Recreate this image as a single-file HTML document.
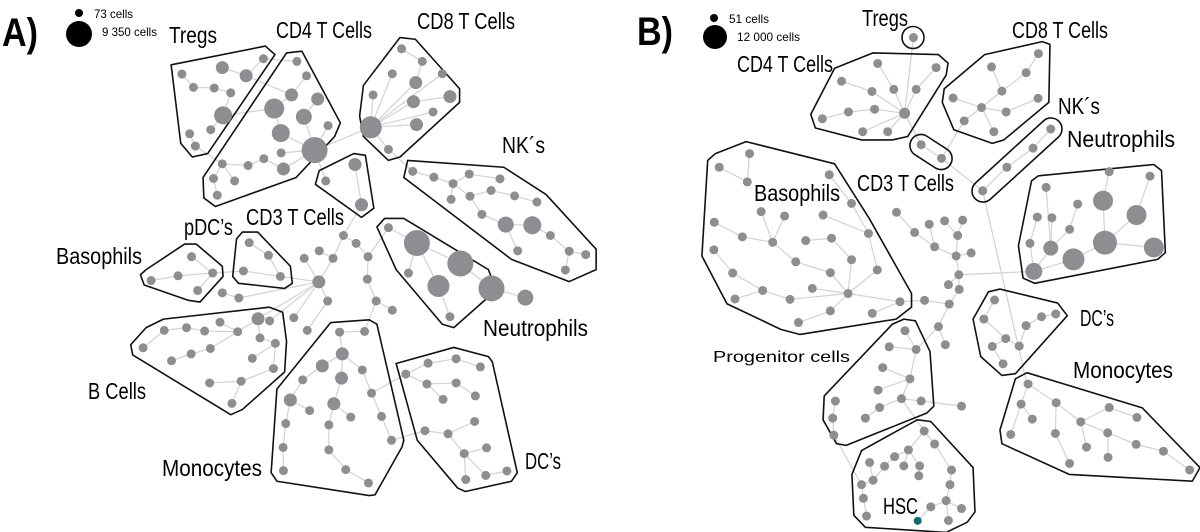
<!DOCTYPE html>
<html><head><meta charset="utf-8"><style>
html,body{margin:0;padding:0;background:#fff;width:1200px;height:532px;overflow:hidden}
svg{display:block}
text{font-family:"Liberation Sans",sans-serif;fill:#000}
.e{fill:none;stroke:#d2d2d2;stroke-width:1.2}
.h{fill:none;stroke:#111;stroke-width:1.6;stroke-linejoin:round}
.n{fill:none;stroke:#8d8e91;stroke-linecap:round}
</style></head><body>
<svg width="1200" height="532" viewBox="0 0 1200 532" xmlns="http://www.w3.org/2000/svg">
<!-- Panel A -->
<g transform="scale(0.3846,0.3413)">
<path class="e" vector-effect="non-scaling-stroke" d="M473,217L503,256L557,258L600,272L580,338L548,380M578,198L640,222L685,172M640,222L758,278M493,392L508,428L578,480M580,338L713,318M772,180L685,172M797,222L758,278L713,318L730,390L818,440M826,290L790,342L818,440M853,368L818,440M731,448L818,440M686,465L645,485L578,480L555,523L565,572M578,480L610,530M737,495L818,440M686,465L737,495M818,440L964,373M818,440L847,530M923,482L940,600L893,690L866,757L829,826M964,373L1020,216M964,373L970,278M964,373L1081,242L1098,180L1044,143M964,373L1150,216M964,373L1075,298L1170,283M964,373L1126,328M964,373L1083,365M964,373L1010,438L1073,502M1073,502L1128,519L1178,538L1220,510L1300,524M1178,538L1173,584M1178,538L1222,575L1277,558M1222,575L1253,628L1315,658L1384,660L1431,690L1480,736L1523,746M1277,558L1338,574L1396,592M1315,658L1346,735M1480,736L1470,791M1010,667L1084,712L1197,772L1278,845L1366,872M1084,712L1062,800M1084,712L1140,838L1170,928M957,752L1010,667M926,713L957,752M893,690L926,713M830,735L866,757M829,826L791,757M829,826L729,810L698,748L648,711M729,810L633,794L553,800L498,752M553,800L463,808L393,822M553,800L514,851M829,826L671,934M829,826L701,940M829,826L764,931M829,826L852,882M829,826L621,873L578,858M957,752L955,818L978,882L1020,909M978,882L948,971M852,882L799,968M671,934L618,972L572,944M618,972L532,970L485,960L427,968L372,1019M671,934L676,990L716,1006M547,1021L497,1037L446,1057M618,972L547,1021M711,1080L627,1117L545,1122M627,1117L603,1182M716,1006L656,1050M716,1006L711,1080M883,973L890,1037L838,1072L787,1113L755,1172L743,1241L736,1311L737,1379M890,1037L942,1084L966,1152L992,1220L1018,1290L1105,1262M890,1037L888,1108L868,1183L855,1245L855,1318L899,1376L958,1415M868,1183L912,1222M755,1172L805,1203M948,971L883,973M1055,1096L1113,1064L1186,1051L1249,1075M1055,1096L1110,1125L1186,1122L1236,1160M1110,1125L1152,1170M1105,1262L1165,1271L1234,1235M1165,1271L1207,1329L1265,1312M1207,1329L1211,1405M1207,1329L1263,1393L1318,1380M966,1152L1055,1096"/>
<path class="h" vector-effect="non-scaling-stroke" d="M445,190L690,135L715,160L540,450L500,460L470,420Z M745,155L785,150L885,360L870,400L770,520L560,605L530,580L528,520Z M1040,110L1080,115L1195,260L1195,300L1040,460L1010,470L945,400L935,340L945,250Z M920,450L950,455L972,610L940,637L820,540L830,500Z M1060,470L1310,490L1420,570L1550,730L1550,790L1480,825L1330,760L1050,520Z M1000,640L1050,640L1270,790L1290,850L1180,960L1150,950L1030,790L980,665Z M630,680L670,680L755,780L760,830L740,845L620,830L605,810L615,700Z M480,715L510,715L578,780L580,810L520,885L490,880L375,835L365,805L380,790Z M425,935L700,900L735,915L745,1000L740,1090L630,1200L600,1215L345,1040L340,1010L380,960Z M860,945L960,937L980,950L1050,1290L1045,1310L975,1450L960,1452L720,1410L705,1385L720,1140Z M1030,1065L1180,1018L1270,1045L1280,1060L1345,1385L1330,1410L1210,1440L1190,1430L1085,1290Z"/>
<path class="n" vector-effect="non-scaling-stroke" stroke-width="9" d="M685,172h0M473,217h0M503,256h0M557,258h0M600,272h0M548,380h0M493,392h0M508,428h0M772,180h0M797,222h0M853,368h0M731,448h0M686,465h0M645,485h0M578,480h0M555,523h0M610,530h0M565,572h0M1044,143h0M1098,180h0M1150,216h0M1020,216h0M970,278h0M1126,328h0M1010,438h0M847,530h0M1073,502h0M1128,519h0M1220,510h0M1300,524h0M1178,538h0M1277,558h0M1222,575h0M1173,584h0M1338,574h0M1396,592h0M1253,628h0M1431,690h0M1480,736h0M1523,746h0M1346,735h0M1470,791h0M1010,667h0M1062,800h0M1170,928h0M648,711h0M698,748h0M633,794h0M729,810h0M498,752h0M553,800h0M463,808h0M393,822h0M514,851h0M893,690h0M926,713h0M957,752h0M866,757h0M830,735h0M791,757h0M955,818h0M852,882h0M978,882h0M1020,909h0M578,858h0M621,873h0M799,968h0M764,931h0M701,940h0M572,944h0M485,960h0M532,970h0M427,968h0M618,972h0M676,990h0M716,1006h0M372,1019h0M547,1021h0M497,1037h0M446,1057h0M656,1050h0M711,1080h0M545,1122h0M627,1117h0M603,1182h0M883,973h0M948,971h0M942,1084h0M787,1113h0M966,1152h0M805,1203h0M912,1222h0M743,1241h0M855,1245h0M992,1220h0M736,1311h0M855,1318h0M1018,1290h0M737,1379h0M899,1376h0M958,1415h0M1113,1064h0M1186,1051h0M1249,1075h0M1055,1096h0M1110,1125h0M1186,1122h0M1152,1170h0M1236,1160h0M1234,1235h0M1105,1262h0M1165,1271h0M1265,1312h0M1207,1329h0M1263,1393h0M1318,1380h0M1211,1405h0"/>
<path class="n" vector-effect="non-scaling-stroke" stroke-width="13" d="M578,198h0M640,222h0M758,278h0M826,290h0M737,495h0M1081,242h0M1170,283h0M1075,298h0M1083,365h0M923,482h0M940,600h0M829,826h0M671,934h0M890,1037h0M838,1072h0M888,1108h0M755,1172h0M868,1183h0"/>
<path class="n" vector-effect="non-scaling-stroke" stroke-width="16" d="M790,342h0M1315,658h0M1366,872h0"/>
<path class="n" vector-effect="non-scaling-stroke" stroke-width="18" d="M580,338h0M730,390h0M1384,660h0"/>
<path class="n" vector-effect="non-scaling-stroke" stroke-width="20" d="M713,318h0"/>
<path class="n" vector-effect="non-scaling-stroke" stroke-width="22" d="M964,373h0M1140,838h0"/>
<path class="n" vector-effect="non-scaling-stroke" stroke-width="26" d="M818,440h0M1084,712h0M1197,772h0M1278,845h0"/>
</g>
<!-- Panel B -->
<g transform="translate(600,0) scale(0.3846,0.3413)">
<path class="e" vector-effect="non-scaling-stroke" d="M815,110L792,332M722,186L764,262L792,332M628,238L707,268L792,332M874,198L822,262L792,332M646,328L714,320L792,332M578,348L646,328M683,386L792,332M748,386L792,332M792,332L835,424L888,464L995,559M1140,157L1108,213L1045,267L1018,196M1045,267L992,315L918,287M992,315L947,354L888,464M992,315L1024,386M992,315L1056,328L1139,288M1172,378L1126,434L1058,490L995,559L1110,1125M771,622L818,681L870,723L926,750L933,805M856,657L870,723M896,647L930,690L926,750M943,645L930,690M965,741L926,750M933,805L1128,795M933,805L906,834M933,805L934,848L908,891L844,880L780,884M908,891L880,957L822,1024M880,957L898,1010M780,884L645,860L552,845M645,860L599,799L509,767L449,710L419,620M449,710L480,633M449,710L370,694L297,651M645,860L654,761L602,698L535,705M645,860L721,791L698,684L580,630M645,860L494,877L423,851L345,800L296,732M423,851L351,876M645,860L599,911L516,945M780,884L708,918M389,450L383,533M310,490L383,533M596,512L654,596L698,684M1128,795L1231,760L1313,711L1308,588L1324,503M1313,711L1440,725M1313,711L1395,630L1430,516M1128,795L1172,727L1221,672L1242,598M1128,795L1118,713L1137,636M1172,727L1175,638M1172,727L1160,549M1026,879L998,935L1055,992L1090,1014L1108,954L1148,928L1185,920M1055,992L1020,1015L1048,1066M793,969L822,1024L752,1016M822,1024L806,1110L735,1077M806,1110L723,1143M806,1110L784,1168L727,1194L690,1225M784,1168L835,1175M784,1168L843,1263M612,1175L605,1225L608,1275L680,1420M843,1263L870,1301L914,1377L910,1420L900,1467L906,1525M900,1467L940,1490M900,1467L860,1485L826,1526M802,1318L766,1338L740,1366L710,1407L680,1420L685,1460L693,1512M802,1318L831,1365L829,1394M802,1318L790,1365M701,1355L710,1407M843,1263L802,1318M1113,1125L1186,1180L1250,1236L1320,1268L1394,1302L1465,1322L1533,1377M1113,1125L1095,1184L1124,1228M1095,1184L1068,1273M1186,1180L1184,1270L1221,1358M1250,1236L1324,1194L1396,1223M1250,1236L1265,1310M1320,1268L1321,1340M835,1175L940,1190"/>
<path class="h" vector-effect="non-scaling-stroke" d="M610,200L710,155L880,160L905,185L900,220L800,400L760,410L680,410L560,375L548,335Z M1000,160L1150,122L1170,130L1167,300L1050,410L1020,420L920,380L890,300L895,260Z M1140,515L1440,482L1460,500L1470,740L1450,760L1130,830L1100,815L1088,720L1122,530Z M300,450L380,415L610,480L700,640L810,860L810,900L770,935L520,980L470,965L330,890L265,750L280,470Z M790,935L820,940L858,1030L868,1190L850,1210L640,1305L615,1300L580,1230L583,1160L760,950Z M680,1320L825,1230L860,1235L970,1370L975,1500L955,1530L900,1560L690,1545L660,1510L655,1390Z M1010,855L1040,847L1190,888L1215,925L1080,1095L1045,1100L990,1045L970,935Z M1110,1092L1410,1195L1560,1370L1540,1410L1220,1390L1045,1300L1040,1260L1080,1110Z"/>
<path class="n" vector-effect="non-scaling-stroke" stroke-width="9" d="M815,110h0M722,186h0M874,198h0M628,238h0M707,268h0M764,262h0M822,262h0M646,328h0M714,320h0M578,348h0M683,386h0M748,386h0M1140,157h0M1018,196h0M1108,213h0M1045,267h0M918,287h0M1139,288h0M992,315h0M1056,328h0M947,354h0M1024,386h0M835,424h0M888,464h0M1172,378h0M1126,434h0M1058,490h0M995,559h0M1324,503h0M1430,516h0M1160,549h0M1242,598h0M1137,636h0M1175,638h0M1221,672h0M1118,713h0M389,450h0M310,490h0M383,533h0M596,512h0M654,596h0M419,620h0M480,633h0M580,630h0M297,651h0M370,694h0M449,710h0M535,705h0M602,698h0M698,684h0M296,732h0M509,767h0M654,761h0M345,800h0M599,799h0M721,791h0M552,845h0M423,851h0M645,860h0M351,876h0M494,877h0M780,884h0M599,911h0M708,918h0M516,945h0M771,622h0M818,681h0M856,657h0M896,647h0M943,645h0M930,690h0M870,723h0M926,750h0M965,741h0M933,805h0M906,834h0M934,848h0M844,880h0M908,891h0M880,957h0M898,1010h0M793,969h0M752,1016h0M822,1024h0M735,1077h0M806,1110h0M723,1143h0M784,1168h0M835,1175h0M940,1190h0M612,1175h0M727,1194h0M605,1225h0M690,1225h0M608,1275h0M843,1263h0M870,1301h0M802,1318h0M766,1338h0M701,1355h0M740,1366h0M790,1365h0M831,1365h0M914,1377h0M829,1394h0M710,1407h0M680,1420h0M910,1420h0M685,1460h0M900,1467h0M860,1485h0M940,1490h0M693,1512h0M906,1525h0M1026,879h0M1185,920h0M1148,928h0M998,935h0M1108,954h0M1055,992h0M1020,1015h0M1090,1014h0M1048,1066h0M1113,1125h0M1186,1180h0M1095,1184h0M1324,1194h0M1396,1223h0M1124,1228h0M1250,1236h0M1184,1270h0M1320,1268h0M1068,1273h0M1394,1302h0M1265,1310h0M1465,1322h0M1321,1340h0M1221,1358h0M1533,1377h0"/>
<path class="n" vector-effect="non-scaling-stroke" stroke-width="11" d="M792,332h0"/>
<path class="n" vector-effect="non-scaling-stroke" stroke-width="15" d="M1172,727h0"/>
<path class="n" vector-effect="non-scaling-stroke" stroke-width="17" d="M1128,795h0"/>
<path class="n" vector-effect="non-scaling-stroke" stroke-width="20" d="M1308,588h0M1395,630h0M1440,725h0"/>
<path class="n" vector-effect="non-scaling-stroke" stroke-width="22" d="M1231,760h0"/>
<path class="n" vector-effect="non-scaling-stroke" stroke-width="24" d="M1313,711h0"/>
<path class="n" vector-effect="non-scaling-stroke" stroke-width="8" style="stroke:#0e6b6b" d="M826,1526h0"/>
</g>
<!-- B pills / circle -->
<circle cx="913" cy="37.5" r="11" fill="none" stroke="#111" stroke-width="1.6"/>
<rect x="-23" y="-11" width="46" height="22" rx="11" transform="translate(931,152) rotate(33)" fill="none" stroke="#111" stroke-width="1.6"/>
<rect x="-57" y="-11" width="114" height="22" rx="11" transform="translate(1017,160) rotate(-42.4)" fill="none" stroke="#111" stroke-width="1.6"/>
<!-- Legends -->
<text x="2" y="46" font-size="40" font-weight="bold" textLength="36" lengthAdjust="spacingAndGlyphs">A)</text>
<circle cx="79" cy="13" r="4" fill="#000"/><circle cx="79" cy="34" r="13" fill="#000"/>
<text x="94" y="18" font-size="12" textLength="39" lengthAdjust="spacingAndGlyphs">73 cells</text>
<text x="102" y="36" font-size="12" textLength="55" lengthAdjust="spacingAndGlyphs">9 350 cells</text>
<text x="637" y="45" font-size="40" font-weight="bold" textLength="36" lengthAdjust="spacingAndGlyphs">B)</text>
<circle cx="714" cy="18" r="4" fill="#000"/><circle cx="715" cy="37" r="12" fill="#000"/>
<text x="729" y="23" font-size="12" textLength="40" lengthAdjust="spacingAndGlyphs">51 cells</text>
<text x="737" y="41" font-size="12" textLength="63" lengthAdjust="spacingAndGlyphs">12 000 cells</text>
<g font-size="23">
<text x="169" y="43" textLength="48" lengthAdjust="spacingAndGlyphs">Tregs</text>
<text x="276" y="38" textLength="96" lengthAdjust="spacingAndGlyphs">CD4 T Cells</text>
<text x="417" y="29" textLength="98" lengthAdjust="spacingAndGlyphs">CD8 T Cells</text>
<text x="502" y="153" textLength="43" lengthAdjust="spacingAndGlyphs">NK´s</text>
<text x="246" y="225" textLength="98" lengthAdjust="spacingAndGlyphs">CD3 T Cells</text>
<text x="184" y="235" textLength="49" lengthAdjust="spacingAndGlyphs">pDC’s</text>
<text x="56" y="264" textLength="86" lengthAdjust="spacingAndGlyphs">Basophils</text>
<text x="483" y="336" textLength="105" lengthAdjust="spacingAndGlyphs">Neutrophils</text>
<text x="88" y="399" textLength="58" lengthAdjust="spacingAndGlyphs">B Cells</text>
<text x="162" y="476" textLength="100" lengthAdjust="spacingAndGlyphs">Monocytes</text>
<text x="525" y="469" textLength="36" lengthAdjust="spacingAndGlyphs">DC’s</text>
<text x="862" y="26" textLength="46" lengthAdjust="spacingAndGlyphs">Tregs</text>
<text x="737" y="72" textLength="96" lengthAdjust="spacingAndGlyphs">CD4 T Cells</text>
<text x="1012" y="38" textLength="96" lengthAdjust="spacingAndGlyphs">CD8 T Cells</text>
<text x="1058" y="114" textLength="42" lengthAdjust="spacingAndGlyphs">NK´s</text>
<text x="1067" y="147" textLength="108" lengthAdjust="spacingAndGlyphs">Neutrophils</text>
<text x="857" y="191" textLength="97" lengthAdjust="spacingAndGlyphs">CD3 T Cells</text>
<text x="754" y="201" textLength="86" lengthAdjust="spacingAndGlyphs">Basophils</text>
<text x="1080" y="326" textLength="34" lengthAdjust="spacingAndGlyphs">DC’s</text>
<text x="1073" y="378" textLength="100" lengthAdjust="spacingAndGlyphs">Monocytes</text>
<text x="883" y="514" textLength="35" lengthAdjust="spacingAndGlyphs">HSC</text>
</g>
<text x="713" y="362" font-size="16" textLength="137" lengthAdjust="spacingAndGlyphs">Progenitor cells</text>
</svg>
</body></html>
